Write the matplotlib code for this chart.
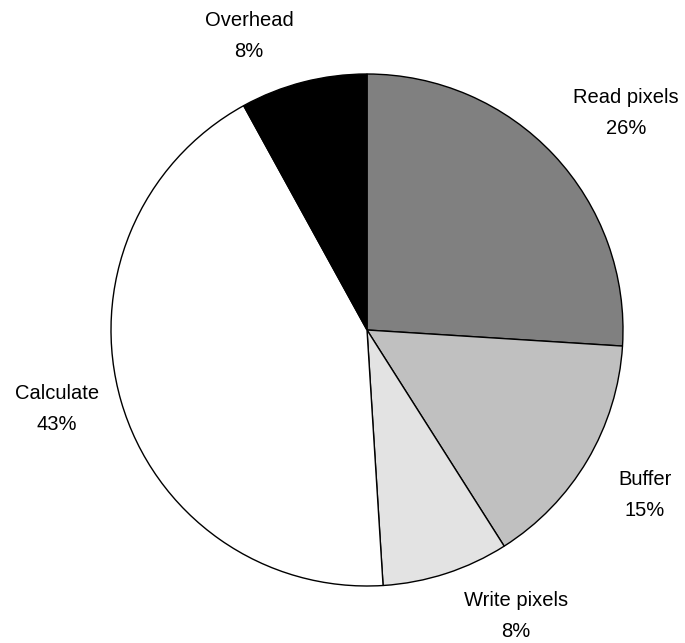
import matplotlib.pyplot as plt

# time split per stage, percent
stages = ['Read pixels', 'Buffer', 'Write pixels', 'Calculate', 'Overhead']
shares = [26, 15, 8, 43, 8]
colors = ['#808080', '#c0c0c0', '#e3e3e3', '#ffffff', '#000000']
# label anchor points in pie units (radius 1)
label_xy = [(1.012, 0.846), (1.086, -0.645), (0.582, -1.119), (-1.211, -0.309), (-0.461, 1.150)]

plt.rcParams['font.family'] = ['Liberation Sans', 'DejaVu Sans']

fig = plt.figure(figsize=(6.85, 6.43), dpi=100)
# axes sized so the unit circle is 256 px across its radius, centred at (367, 330)
w, h = 685.0, 643.0
r = 256.0
cx, cy = 367.0, 330.0
ax = fig.add_axes([(cx - 1.4 * r) / w, (h - cy - 1.4 * r) / h, 2.8 * r / w, 2.8 * r / h])

ax.pie(shares, colors=colors, startangle=90, counterclock=False,
       wedgeprops=dict(edgecolor='black', linewidth=1.0))
ax.set_xlim(-1.4, 1.4)
ax.set_ylim(-1.4, 1.4)
ax.set_aspect('equal')
ax.axis('off')

for name, val, (x, y) in zip(stages, shares, label_xy):
    ax.text(x, y, f'{name}\n{val}%', ha='center', va='center',
            fontsize=14.5, linespacing=1.8, color='black')

fig.savefig('out.png', dpi=100)
